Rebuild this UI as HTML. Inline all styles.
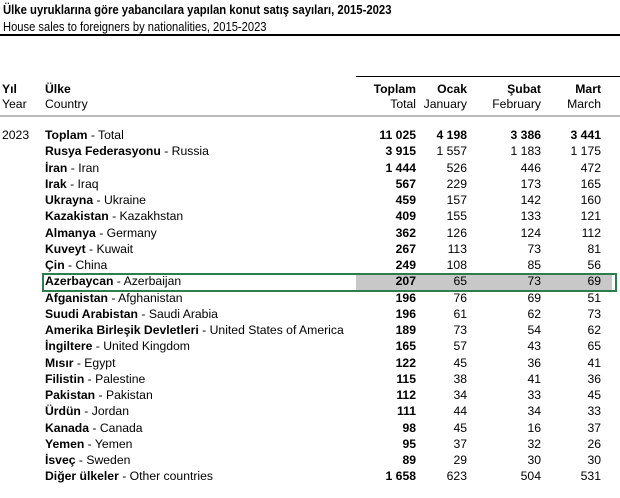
<!DOCTYPE html>
<html><head><meta charset="utf-8"><style>
body{margin:0;width:620px;height:498px;background:#fff;font-family:"Liberation Sans",Arial,sans-serif;color:#000;position:relative;overflow:hidden}
.a{position:absolute;white-space:nowrap;font-size:12.2px;line-height:14px}
.r{text-align:right}
b{font-weight:bold}
</style></head><body>
<div class="a" style="left:3px;top:3px;font-size:13px;font-weight:bold;transform:scaleX(0.87);transform-origin:0 0">Ülke uyruklarına göre yabancılara yapılan konut satış sayıları, 2015-2023</div>
<div class="a" style="left:3px;top:20px;font-size:13px;transform:scaleX(0.86);transform-origin:0 0">House sales to foreigners by nationalities, 2015-2023</div>
<div style="position:absolute;left:0;top:34px;width:620px;height:2px;background:#000"></div>
<div style="position:absolute;left:356px;top:76px;width:264px;height:1px;background:#000"></div>
<div style="position:absolute;left:0;top:115px;width:620px;height:2px;background:#bbb"></div>
<div class="a" style="left:2px;top:82px;font-weight:bold">Yıl</div>
<div class="a" style="left:2px;top:97px">Year</div>
<div class="a" style="left:45px;top:82px;font-weight:bold">Ülke</div>
<div class="a" style="left:45px;top:97px">Country</div>
<div class="a r" style="right:204px;top:82px;font-weight:bold">Toplam</div>
<div class="a r" style="right:204px;top:97px">Total</div>
<div class="a r" style="right:153px;top:82px;font-weight:bold">Ocak</div>
<div class="a r" style="right:153px;top:97px">January</div>
<div class="a r" style="right:79px;top:82px;font-weight:bold">Şubat</div>
<div class="a r" style="right:79px;top:97px">February</div>
<div class="a r" style="right:19px;top:82px;font-weight:bold">Mart</div>
<div class="a r" style="right:19px;top:97px">March</div>
<div class="a" style="left:2px;top:128px">2023</div>
<div style="position:absolute;left:356px;top:275px;width:256px;height:15px;background:#c8c8c8"></div>
<div style="position:absolute;left:42px;top:273px;width:571px;height:15px;border:2px solid #2e7d4f"></div>
<div id="rows"></div>
<script>
var d=[["Toplam","Total","11 025","4 198","3 386","3 441"],
["Rusya Federasyonu","Russia","3 915","1 557","1 183","1 175"],
["İran","Iran","1 444","526","446","472"],
["Irak","Iraq","567","229","173","165"],
["Ukrayna","Ukraine","459","157","142","160"],
["Kazakistan","Kazakhstan","409","155","133","121"],
["Almanya","Germany","362","126","124","112"],
["Kuveyt","Kuwait","267","113","73","81"],
["Çin","China","249","108","85","56"],
["Azerbaycan","Azerbaijan","207","65","73","69"],
["Afganistan","Afghanistan","196","76","69","51"],
["Suudi Arabistan","Saudi Arabia","196","61","62","73"],
["Amerika Birleşik Devletleri","United States of America","189","73","54","62"],
["İngiltere","United Kingdom","165","57","43","65"],
["Mısır","Egypt","122","45","36","41"],
["Filistin","Palestine","115","38","41","36"],
["Pakistan","Pakistan","112","34","33","45"],
["Ürdün","Jordan","111","44","34","33"],
["Kanada","Canada","98","45","16","37"],
["Yemen","Yemen","95","37","32","26"],
["İsveç","Sweden","89","29","30","30"],
["Diğer ülkeler","Other countries","1 658","623","504","531"]];
var h="";
d.forEach(function(r,i){var t=128+i*16.25;var bb=(i==0)?"font-weight:bold;":"";
h+='<div class="a" style="left:45px;top:'+t+'px"><b>'+r[0]+'</b> - '+r[1]+'</div>';
h+='<div class="a r" style="right:204px;top:'+t+'px;font-weight:bold">'+r[2]+'</div>';
h+='<div class="a r" style="right:153px;top:'+t+'px;'+bb+'">'+r[3]+'</div>';
h+='<div class="a r" style="right:79px;top:'+t+'px;'+bb+'">'+r[4]+'</div>';
h+='<div class="a r" style="right:19px;top:'+t+'px;'+bb+'">'+r[5]+'</div>';});
document.getElementById("rows").innerHTML=h;
</script>
</body></html>
